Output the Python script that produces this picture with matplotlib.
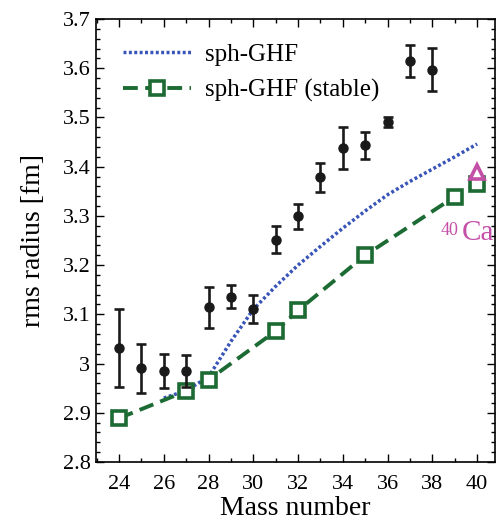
import matplotlib
matplotlib.use("Agg")
import matplotlib.pyplot as plt
from matplotlib.ticker import MultipleLocator, FuncFormatter

plt.rcParams['font.family'] = ['Liberation Serif', 'DejaVu Serif']

# Experimental data
exp_A = [24, 25, 26, 27, 28, 29, 30, 31, 32, 33, 34, 35, 36, 37, 38]
exp_r = [3.032, 2.990, 2.985, 2.985, 3.114, 3.136, 3.111, 3.252, 3.299, 3.378,
         3.438, 3.443, 3.490, 3.615, 3.597]
exp_err = [0.079, 0.050, 0.035, 0.032, 0.042, 0.024, 0.029, 0.027, 0.025, 0.029,
           0.042, 0.027, 0.010, 0.032, 0.044]

# sph-GHF
ghf_A = [26, 27, 28, 29, 30, 31, 32, 33, 34, 35, 36, 37, 38, 39, 40]
ghf_r = [2.930, 2.945, 2.973, 3.045, 3.110, 3.157, 3.200, 3.238, 3.275, 3.310,
         3.343, 3.370, 3.395, 3.420, 3.446]

# sph-GHF (stable)
stab_A = [24, 27, 28, 31, 32, 35, 39, 40]
stab_r = [2.889, 2.944, 2.967, 3.066, 3.108, 3.220, 3.339, 3.364]

# 40Ca
ca_A = [40]
ca_r = [3.390]

fig = plt.figure(figsize=(4.96, 5.23), dpi=100)
ax = fig.add_axes([0.1935, 0.1166, 0.998 - 0.1935, 0.9637 - 0.1166])

blue = '#3A55B8'
green = '#1D6B34'
mag = '#C44FA6'

ax.plot(ghf_A, ghf_r, color=blue, lw=2.5, linestyle=(0, (0.85, 0.7)),
        label='sph-GHF', zorder=3)
ax.plot(stab_A, stab_r, color=green, lw=2.8, linestyle=(0, (3.8, 1.9)),
        marker='s', markersize=10, markerfacecolor='white',
        markeredgecolor=green, markeredgewidth=2.6,
        label='sph-GHF (stable)', zorder=4)
ax.plot(ca_A, ca_r, linestyle='none', marker='^', markersize=10,
        markerfacecolor='white', markeredgecolor=mag, markeredgewidth=2.6,
        zorder=5)
ax.errorbar(exp_A, exp_r, yerr=exp_err, fmt='o', color='#1a1a1a',
            markersize=6.5, elinewidth=1.9, capsize=3.5, capthick=1.9, zorder=6)

ax.text(38.35, 3.262, '40', color=mag, fontsize=13, ha='left', va='baseline')
ax.text(39.3, 3.251, 'Ca', color=mag, fontsize=21, ha='left', va='baseline')

ax.set_xlim(22.97, 40.8)
ax.set_ylim(2.8, 3.7)
ax.xaxis.set_major_locator(MultipleLocator(2))
ax.xaxis.set_minor_locator(MultipleLocator(1))
ax.yaxis.set_major_locator(MultipleLocator(0.1))
ax.yaxis.set_minor_locator(MultipleLocator(0.02))
ax.yaxis.set_major_formatter(FuncFormatter(lambda v, p: '3' if abs(v - 3.0) < 1e-9 else '%.1f' % v))

ax.tick_params(which='both', direction='in', top=True, right=True, width=1.0)
ax.tick_params(which='major', length=5.5, labelsize=16)
ax.tick_params(axis='x', which='major', pad=9)
ax.tick_params(axis='y', which='major', pad=4)
ax.tick_params(which='minor', length=2.8)
for s in ax.spines.values():
    s.set_linewidth(1.2)

ax.set_xlabel('Mass number', fontsize=20, labelpad=2)
ax.set_ylabel('rms radius [fm]', fontsize=20, labelpad=12)

leg = ax.legend(loc='upper left', bbox_to_anchor=(0.025, 0.985), frameon=False,
                fontsize=18, handlelength=2.7, handletextpad=0.55,
                labelspacing=0.55, borderaxespad=0.3)

fig.savefig('out.png', dpi=100)
